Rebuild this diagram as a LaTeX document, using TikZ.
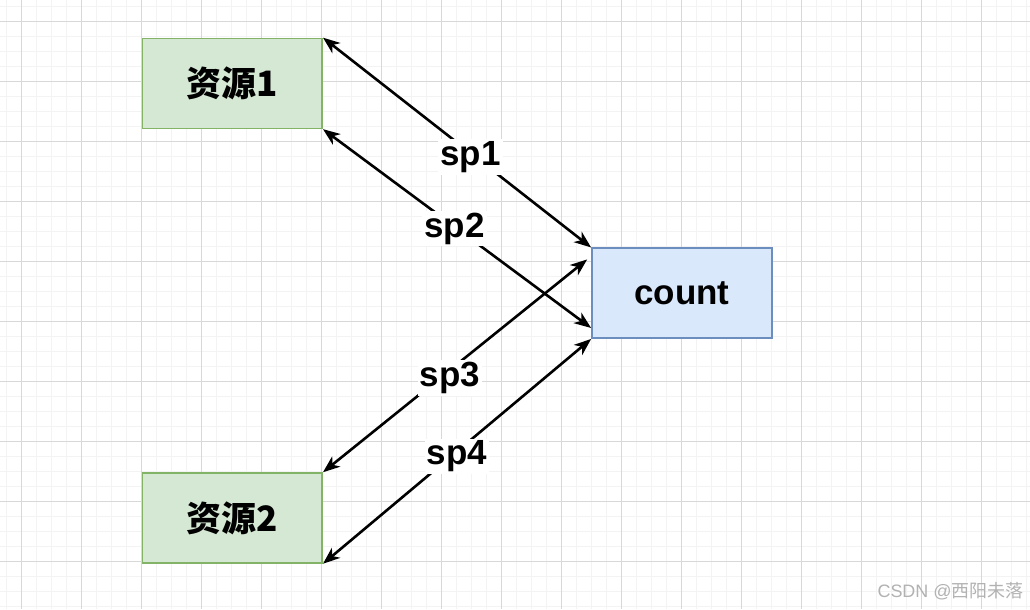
\documentclass[tikz,border=0pt]{standalone}
\usepackage{fontspec}
\usepackage{tikz}
\usetikzlibrary{positioning, arrows.meta, calc}
\setmainfont{Liberation Sans}
\newfontfamily\cjk{Noto Sans CJK SC}
\definecolor{GridMajor}{RGB}{216,216,216}
\definecolor{GridMinor}{RGB}{243,243,243}
\definecolor{ResGreen}{RGB}{213,232,212}
\definecolor{ResGreenLine}{RGB}{130,179,102}
\definecolor{CntBlue}{RGB}{218,232,252}
\definecolor{CntBlueLine}{RGB}{108,142,191}
\definecolor{MarkGray}{RGB}{178,178,178}

\begin{document}
\begin{tikzpicture}[
  x=1pt, y=-1pt,
  resbox/.style={rectangle, draw=ResGreenLine, fill=ResGreen, minimum width=180pt, minimum height=90pt, inner sep=0pt, line width=1.6pt, font=\fontsize{35}{42}\selectfont\cjk\bfseries},
  cntbox/.style={rectangle, draw=CntBlueLine, fill=CntBlue, minimum width=180pt, minimum height=90pt, inner sep=0pt, line width=1.6pt, font=\fontsize{35}{42}\selectfont\bfseries},
  link/.style={{Stealth[length=17pt, width=13pt, inset=5pt]}-{Stealth[length=17pt, width=13pt, inset=5pt]}, line width=2.6pt, black},
  lbl/.style={fill=white, inner sep=2pt, font=\fontsize{35}{42}\selectfont\bfseries}
]

% Background grid
\fill[white] (0,0) rectangle (1030,609);
\foreach \gx in {6.5,21.5,...,1030} \draw[GridMinor, line width=1pt] (\gx,0) -- (\gx,609);
\foreach \gy in {6.5,21.5,...,609} \draw[GridMinor, line width=1pt] (0,\gy) -- (1030,\gy);
\foreach \gx in {21.5,81.5,...,1030} \draw[GridMajor, line width=1pt] (\gx,0) -- (\gx,609);
\foreach \gy in {21.5,81.5,...,609} \draw[GridMajor, line width=1pt] (0,\gy) -- (1030,\gy);

% Resources and counter
\node[resbox] (res1) at (232,83) {资源1};
\node[resbox] (res2) at (232,518) {资源2};
\node[cntbox] (count) at (682,293) {count};

% Links
\draw[link] (res1.north east) -- node[lbl, pos=0.55, yshift=-4pt] {sp1} (count.north west);
\draw[link] (res1.south east) -- node[lbl, pos=0.49, yshift=-2pt] {sp2} ($(count.south west)+(0,-11)$);
\draw[link] (res2.north east) -- node[lbl, pos=0.48, yshift=-8pt] {sp3} ($(count.north west)+(-4,12)$);
\draw[link] (res2.south east) -- node[lbl, pos=0.5, yshift=-5pt] {sp4} (count.south west);

% Watermark
\node[MarkGray, font=\fontsize{18}{20}\selectfont, inner sep=0pt] (mark) at (951,591) {CSDN @{\cjk 西阳未落}};

\end{tikzpicture}
\end{document}
